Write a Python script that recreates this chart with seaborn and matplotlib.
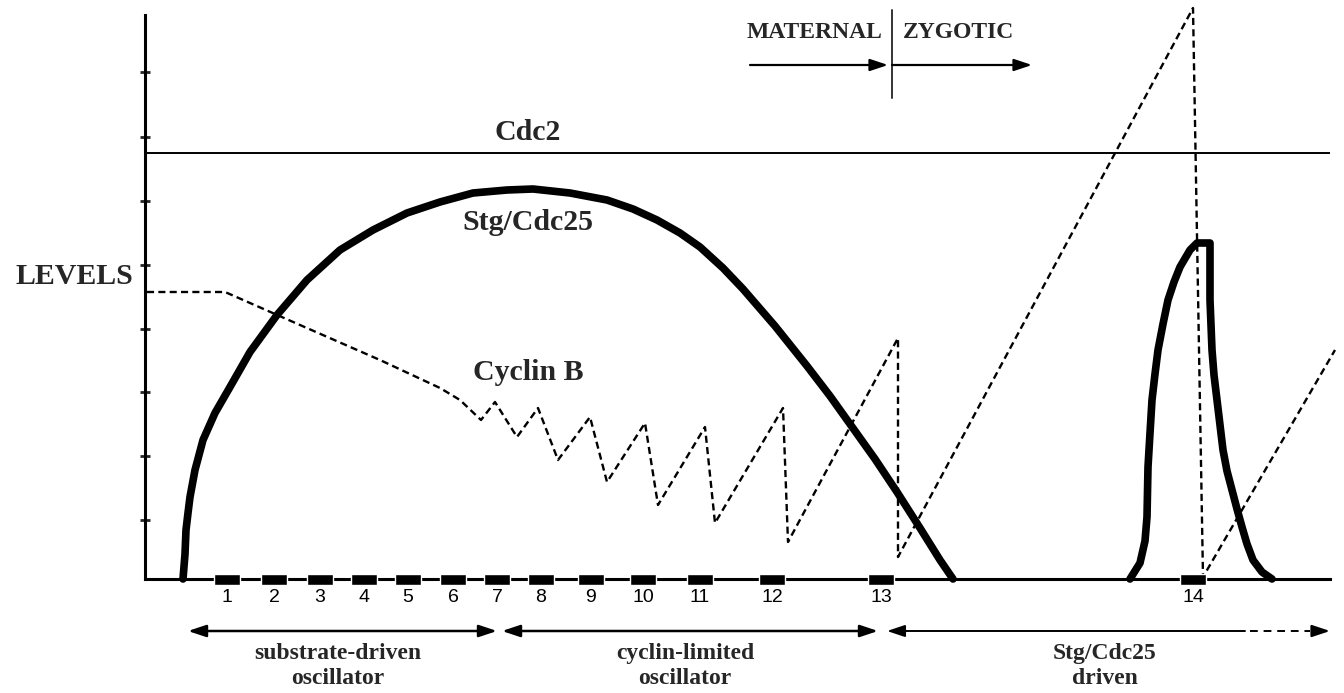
import matplotlib
matplotlib.use("Agg")
import matplotlib.pyplot as plt
import seaborn as sns
from matplotlib import font_manager

# values (x: time, y: level, arbitrary units)
stg_x = [38, 40, 41, 43, 45, 50, 58, 70, 85, 105, 132, 162, 195, 228, 262, 295, 328, 362,
         388, 425, 462, 488, 512, 535, 555, 578, 598, 630, 662, 685, 705, 730, 752, 775,
         795, 808]
stg_y = [0, 25, 49, 66, 82, 109, 139, 166, 192, 227, 264, 299, 329, 349, 366, 377, 386, 389,
         390, 386, 379, 370, 359, 346, 332, 311, 290, 253, 213, 183, 155, 120, 87, 51,
         19, 0]

stg14_x = [985, 995, 1000, 1002, 1003, 1005, 1007, 1010, 1013, 1018, 1023, 1029, 1035, 1045,
           1052, 1065, 1065, 1066, 1067, 1069, 1072, 1075, 1078, 1082, 1087, 1092, 1097,
           1102, 1108, 1117, 1127]
stg14_y = [0, 16, 38, 62, 112, 146, 179, 205, 229, 255, 279, 297, 312, 329, 336, 336, 279,
           254, 229, 204, 179, 154, 129, 108, 89, 70, 52, 35, 19, 7, 0]

cyclin_x = [2, 80, 155, 235, 295, 315, 336, 350, 372, 393, 413, 445, 462, 500, 513, 560,
            570, 638, 643, 753, 753, 1048, 1058, 1190]
cyclin_y = [287, 287, 254, 219, 191, 179, 159, 177, 142, 171, 119, 162, 97, 156, 74, 152,
            56, 171, 37, 241, 22, 571, 2, 229]

cdc2_level = 426
level_ticks = [59, 123, 187, 250, 314, 378, 442, 507]

cycle_labels = ["1", "2", "3", "4", "5", "6", "7", "8", "9", "10", "11", "12", "13", "14"]
cycle_x = [82, 129, 175, 219, 263, 308, 352, 396, 446, 498, 555, 627, 736, 1048]

phase_names = ["substrate-driven\noscillator", "cyclin-limited\noscillator", "Stg/Cdc25\ndriven"]
phase_start = [43, 357, 742]
phase_end = [352, 733, 1185]

sns.set_theme(style="white")
serif = {"family": ["Liberation Serif", "DejaVu Serif"], "weight": "bold"}
names = {f.name for f in font_manager.fontManager.ttflist}
num_font = "Liberation Sans Narrow" if "Liberation Sans Narrow" in names else "Liberation Sans"

fig = plt.figure(figsize=(13.44, 6.93), dpi=100)
ax = fig.add_axes([145 / 1344, 114 / 693, 1185 / 1344, 564 / 693])
ax.set_xlim(0, 1185)
ax.set_ylim(0, 564)

for side in ["top", "right"]:
    ax.spines[side].set_visible(False)
for side in ["left", "bottom"]:
    ax.spines[side].set_linewidth(2.2)
    ax.spines[side].set_color("black")
ax.set_xticks([])
ax.set_yticks(level_ticks)
ax.tick_params(axis="y", direction="inout", length=7, width=2, labelleft=False, left=True)

# Cdc2 constant level
ax.axhline(cdc2_level, color="black", lw=1.4)

# Stg/Cdc25
thick = dict(sort=False, estimator=None, color="black", lw=5.5, clip_on=False,
             solid_joinstyle="round", ax=ax)
sns.lineplot(x=stg_x, y=stg_y, **thick)
sns.lineplot(x=stg14_x, y=stg14_y, **thick)

# Cyclin B
sns.lineplot(x=cyclin_x, y=cyclin_y, sort=False, estimator=None, color="black", lw=1.7,
             linestyle=(0, (3, 1.8)), clip_on=False, ax=ax)

# cycle boxes and numbers
ax.bar(cycle_x, 11, bottom=-5.5, width=26, color="black", clip_on=False, zorder=5)
for lab, x in zip(cycle_labels, cycle_x):
    ax.text(x, -19, lab, ha="center", va="center", fontsize=14, family=num_font,
            color="black")

# curve labels
ax.text(383, 447, "Cdc2", ha="center", va="center", fontsize=21.5, **serif)
ax.text(383, 357, "Stg/Cdc25", ha="center", va="center", fontsize=21.5, **serif)
ax.text(383, 207, "Cyclin B", ha="center", va="center", fontsize=21.5, **serif)
ax.text(-12, 302, "LEVELS", ha="right", va="center", fontsize=21.5, clip_on=False, **serif)

# maternal / zygotic marker
ax.plot([747, 747], [481, 569], color="#333333", lw=1.4, clip_on=False)
ax.text(670, 547, "MATERNAL", ha="center", va="center", fontsize=17, **serif)
ax.text(813, 547, "ZYGOTIC", ha="center", va="center", fontsize=17, **serif)
head = dict(arrowstyle="-|>,head_length=0.9,head_width=0.3", color="black", lw=1.6,
            shrinkA=0, shrinkB=0)
ax.annotate("", xy=(743, 514), xytext=(605, 514), arrowprops=head, annotation_clip=False)
ax.annotate("", xy=(887, 514), xytext=(747, 514), arrowprops=head, annotation_clip=False)

# phase arrows
both = dict(arrowstyle="<|-|>,head_length=0.9,head_width=0.3", color="black", lw=1.8,
            shrinkA=0, shrinkB=0)
for name, x0, x1 in zip(phase_names[:2], phase_start[:2], phase_end[:2]):
    ax.annotate("", xy=(x1, -52), xytext=(x0, -52), arrowprops=both, annotation_clip=False)
    ax.text((x0 + x1) / 2 - 5, -87, name, ha="center", va="center", fontsize=17,
            linespacing=1.2, clip_on=False, **serif)

left_head = dict(arrowstyle="<|-,head_length=0.9,head_width=0.3", color="black", lw=1.4,
                 shrinkA=0, shrinkB=0)
ax.annotate("", xy=(1100, -52), xytext=(phase_start[2], -52), arrowprops=left_head,
            annotation_clip=False)
ax.plot([1105, 1165], [-52, -52], color="black", lw=1.4, linestyle=(0, (4, 3)),
        clip_on=False)
ax.annotate("", xy=(phase_end[2], -52), xytext=(1168, -52), arrowprops=head,
            annotation_clip=False)
ax.text(960, -87, phase_names[2], ha="center", va="center", fontsize=17,
        linespacing=1.2, clip_on=False, **serif)

fig.savefig("out.png", dpi=100, facecolor="white")
